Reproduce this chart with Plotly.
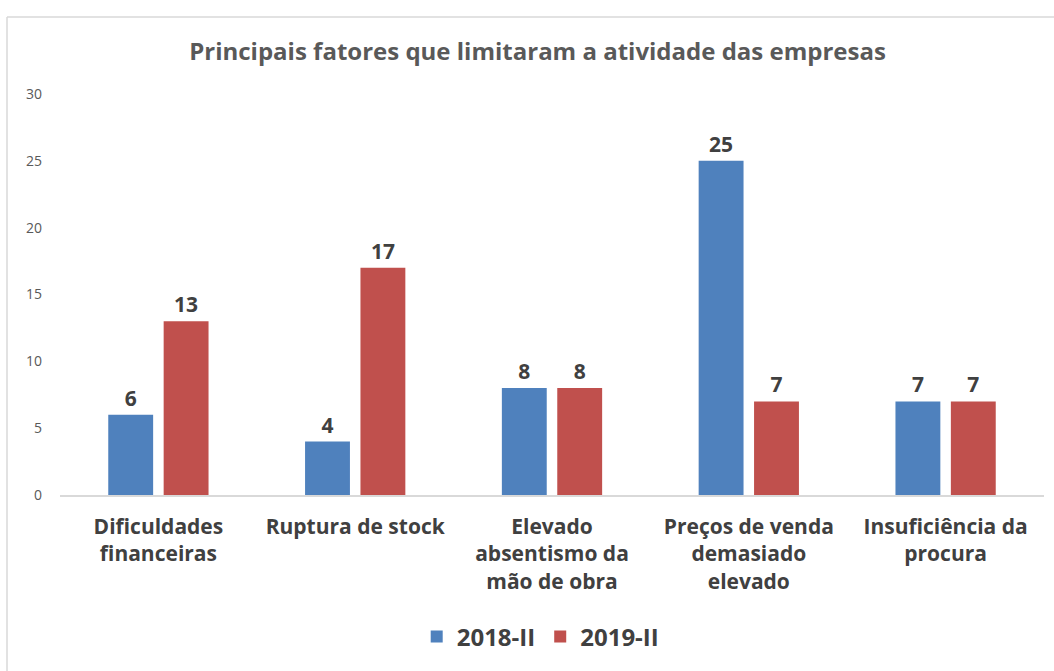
import plotly.graph_objects as go

categories = [
    "Dificuldades<br>financeiras",
    "Ruptura de stock",
    "Elevado<br>absentismo da<br>mão de obra",
    "Preços de venda<br>demasiado<br>elevado",
    "Insuficiência da<br>procura",
]
series_names = ["2018-II", "2019-II"]
values_2018 = [6, 4, 8, 25, 7]
values_2019 = [13, 17, 8, 7, 7]
colors = ["#4F81BD", "#C0504D"]
y_ticks = [0, 5, 10, 15, 20, 25, 30]

FONT = "Open Sans"
W, H = 1054, 671
ML, MR, MT, MB = 60, 10, 94, 176

fig = go.Figure()
for name, vals, col in zip(series_names, [values_2018, values_2019], colors):
    fig.add_trace(go.Bar(
        x=categories, y=vals, name=name,
        marker=dict(color=col, line=dict(width=0)),
        text=vals, textposition="outside", cliponaxis=False,
        textfont=dict(family=FONT, size=21, color="#404040", weight="bold"),
    ))

pw = W - ML - MR
ph = H - MT - MB
def px_to_paper_x(px):
    return (px - ML) / pw
def px_to_paper_y(py):
    return (H - MB - py) / ph

# chart border (top and left edges visible in reference)
fig.add_shape(type="line", xref="paper", yref="paper",
              x0=px_to_paper_x(7), x1=px_to_paper_x(1060),
              y0=px_to_paper_y(17), y1=px_to_paper_y(17),
              line=dict(color="#D9D9D9", width=1.5))
fig.add_shape(type="line", xref="paper", yref="paper",
              x0=px_to_paper_x(7), x1=px_to_paper_x(7),
              y0=px_to_paper_y(17), y1=px_to_paper_y(680),
              line=dict(color="#D9D9D9", width=1.5))

fig.update_layout(
    width=W, height=H,
    margin=dict(l=ML, r=MR, t=MT, b=MB),
    paper_bgcolor="white", plot_bgcolor="white",
    barmode="group", bargap=0.437, bargroupgap=0.19,
    title=dict(
        text="<b>Principais fatores que limitaram a atividade das empresas</b>",
        x=0.51, xanchor="center", y=1 - 52 / H, yanchor="middle",
        font=dict(family=FONT, size=24, color="#595959"),
    ),
    showlegend=True,
    legend=dict(
        orientation="h", x=0.513, xanchor="center", xref="container",
        y=1 - 637 / H, yanchor="middle", yref="container",
        font=dict(family=FONT, size=24, color="#404040", weight="bold"),
        itemwidth=30, traceorder="normal",
    ),
    xaxis=dict(
        showgrid=False, showline=True, linecolor="#D9D9D9", linewidth=1.5,
        ticks="", ticklabelstandoff=12,
        tickfont=dict(family=FONT, size=21, color="#404040", weight="bold"),
    ),
    yaxis=dict(
        range=[0, 30], tickvals=y_ticks, showgrid=False, zeroline=False,
        showline=False, ticks="", ticklabelstandoff=17,
        tickfont=dict(family=FONT, size=14, color="#595959"),
    ),
)

fig.write_html("out.html", config={"displayModeBar": False},
               post_script="document.body.style.margin='0';")
